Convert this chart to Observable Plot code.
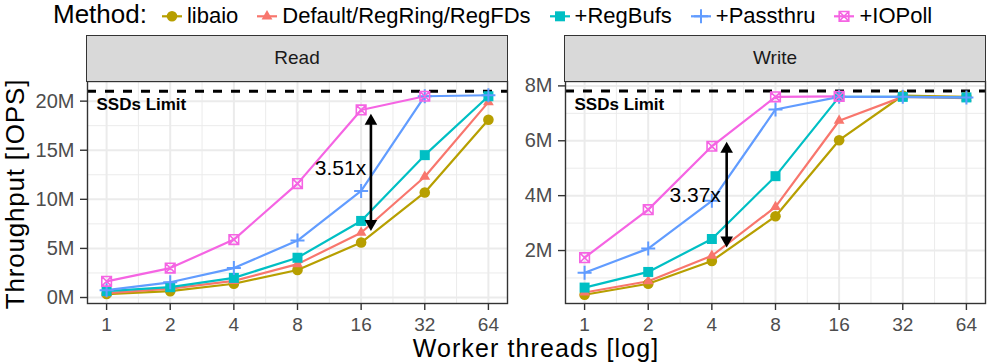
<!DOCTYPE html>
<html><head><meta charset="utf-8">
<script src="https://cdn.jsdelivr.net/npm/d3@7"></script>
<script src="https://cdn.jsdelivr.net/npm/@observablehq/plot@0.6"></script>
<style>
body{margin:0;background:#fff;}
#root{position:relative;width:987px;height:363px;font-family:"Liberation Sans",Arial,sans-serif;overflow:hidden;background:#fff;}
.abs{position:absolute;white-space:nowrap;}
.strip{position:absolute;box-sizing:border-box;background:#d9d9d9;border:1.4px solid #333;display:flex;align-items:center;justify-content:center;font-size:19px;color:#1a1a1a;}
#legend{position:absolute;left:53px;top:3px;display:flex;align-items:baseline;line-height:22px;}
.ltitle{font-size:26px;margin-right:15px;color:#000;}
.lkey{margin-right:5px;}
.llab{font-size:22px;margin-right:19px;color:#000;}
</style></head><body><div id="root"></div>
<script>
// ---------- data ----------
const threads = [1, 2, 4, 8, 16, 32, 64];
const methods = ["libaio", "Default/RegRing/RegFDs", "+RegBufs", "+Passthru", "+IOPoll"];
const methodColors = ["#B79F00", "#F8766D", "#00BFC4", "#619CFF", "#F564E3"];

// Read throughput, millions of IOPS
const readLibaio   = [0.35, 0.65, 1.4, 2.8, 5.6, 10.7, 18.1];
const readDefault  = [0.45, 0.9, 1.7, 3.4, 6.6, 12.3, 19.9];
const readRegBufs  = [0.65, 1.05, 2.0, 4.05, 7.8, 14.5, 20.5];
const readPassthru = [0.75, 1.55, 3.0, 5.8, 10.85, 20.5, 20.6];
const readIOPoll   = [1.65, 3.0, 5.9, 11.6, 19.1, 20.5];

// Write throughput, millions of IOPS
const writeLibaio   = [0.39, 0.79, 1.62, 3.25, 6.02, 7.65, 7.6];
const writeDefault  = [0.47, 0.88, 1.81, 3.59, 6.73, 7.6, 7.55];
const writeRegBufs  = [0.65, 1.22, 2.42, 4.71, 7.6, 7.6, 7.58];
const writePassthru = [1.19, 2.07, 3.81, 7.14, 7.6, 7.6, 7.58];
const writeIOPoll   = [1.74, 3.49, 5.8, 7.6, 7.62];

const readLimit = 21.0;
const writeLimit = 7.81;
const limitLabel = "SSDs Limit";

const readTicks = [0, 5, 10, 15, 20];
const readMinor = [2.5, 7.5, 12.5, 17.5];
const writeTicks = [2, 4, 6, 8];
const writeMinor = [1, 3, 5, 7];
const minorX = [1.414, 2.828, 5.657, 11.31, 22.63, 45.25];

const readArrow  = [{x: 17.8, top: 18.72, bottom: 6.78, label: "3.51x", lx: 16.9, ly: 13.12}];
const writeArrow = [{x: 4.7, top: 5.96, bottom: 2.11, label: "3.37x", lx: 4.41, ly: 4.02}];

const panelTitles = ["Read", "Write"];
const xTitle = "Worker threads [log]";
const yTitle = "Throughput [IOPS]";
const legendTitle = "Method:";

// ---------- symbols ----------
const symCircle = {draw(c){ c.moveTo(5.3, 0); c.arc(0, 0, 5.3, 0, 2 * Math.PI); c.closePath(); }};
const symTriangle = {draw(c){ c.moveTo(0, -6.2); c.lineTo(5.4, 3.1); c.lineTo(-5.4, 3.1); c.closePath(); }};
const symSquare = {draw(c){ c.rect(-5, -5, 10, 10); }};
const symPlus = {draw(c){ c.moveTo(-7, 0); c.lineTo(7, 0); c.moveTo(0, -7); c.lineTo(0, 7); }};
const symBoxX = {draw(c){ c.rect(-4.8, -4.8, 9.6, 9.6); c.moveTo(-4.8, -4.8); c.lineTo(4.8, 4.8); c.moveTo(4.8, -4.8); c.lineTo(-4.8, 4.8); }};
const headUp = {draw(c){ c.moveTo(0, 0); c.lineTo(6.3, 11); c.lineTo(-6.3, 11); c.closePath(); }};
const headDown = {draw(c){ c.moveTo(0, 0); c.lineTo(6.3, -11); c.lineTo(-6.3, -11); c.closePath(); }};
const methodSymbols = [symCircle, symTriangle, symSquare, symPlus, symBoxX];
const filledSymbol = [true, true, true, false, false];

const FONT = "'Liberation Sans', Arial, sans-serif";

function panel({series, limit, yDomain, yTicks, yMinor, arrow, width, marginLeft, marginRight}) {
  const rows = [];
  methods.forEach((m, i) => series[i].forEach((v, j) => rows.push({method: m, threads: threads[j], value: v})));
  const dots = methods.map((m, i) => Plot.dot(rows.filter(d => d.method === m), {
    x: "threads", y: "value", r: 5, symbol: methodSymbols[i],
    fill: filledSymbol[i] ? methodColors[i] : "none",
    stroke: filledSymbol[i] ? "none" : methodColors[i],
    strokeWidth: i === 3 ? 2 : 1.6
  }));
  return Plot.plot({
    width, height: 302, marginLeft, marginRight, marginTop: 45, marginBottom: 35,
    style: {fontFamily: FONT, fontSize: "20px", background: "transparent", overflow: "visible"},
    x: {type: "log", base: 2, domain: [2 ** -0.3, 2 ** 6.3]},
    y: {domain: yDomain},
    color: {domain: methods, range: methodColors},
    marks: [
      Plot.ruleX(minorX, {stroke: "#ebebeb", strokeWidth: 1}),
      Plot.ruleY(yMinor, {stroke: "#ebebeb", strokeWidth: 1}),
      Plot.ruleX(threads, {stroke: "#ebebeb", strokeWidth: 2}),
      Plot.ruleY(yTicks, {stroke: "#ebebeb", strokeWidth: 2}),
      Plot.ruleY([limit], {stroke: "#000", strokeWidth: 3, strokeDasharray: "9,9"}),
      Plot.line(rows, {x: "threads", y: "value", z: "method", stroke: "method", strokeWidth: 2.2}),
      ...dots,
      Plot.arrow(arrow, {x1: "x", y1: "top", x2: "x", y2: "bottom", headLength: 0, insetStart: 6, insetEnd: 6, strokeWidth: 2.6, stroke: "#000"}),
      Plot.dot(arrow, {x: "x", y: "top", symbol: headUp, fill: "#000", stroke: "none", r: 5}),
      Plot.dot(arrow, {x: "x", y: "bottom", symbol: headDown, fill: "#000", stroke: "none", r: 5}),
      Plot.text(arrow, {x: "lx", y: "ly", text: "label", textAnchor: "end", lineAnchor: "middle", fontSize: 21, fill: "#000"}),
      Plot.text([limitLabel], {frameAnchor: "top-left", dx: 9, dy: 23.5, textAnchor: "start", lineAnchor: "middle", fontWeight: "bold", fontSize: 17, fill: "#000"}),
      Plot.frame({stroke: "#333", strokeWidth: 1.4}),
      Plot.axisX(threads, {anchor: "bottom", tickSize: 7, tickPadding: 6.5, fontSize: 19, fill: "#4d4d4d", stroke: "#333", strokeWidth: 1.4, label: null, tickFormat: d => String(d)}),
      Plot.axisY(yTicks, {anchor: "left", tickSize: 7, tickPadding: 6, fontSize: 20, fill: "#4d4d4d", stroke: "#333", strokeWidth: 1.4, label: null, tickFormat: d => d + "M"})
    ]
  });
}

const root = document.getElementById("root");

const left = panel({
  series: [readLibaio, readDefault, readRegBufs, readPassthru, readIOPoll],
  limit: readLimit, yDomain: [-0.61, 22.0], yTicks: readTicks, yMinor: readMinor,
  arrow: readArrow, width: 510, marginLeft: 87, marginRight: 3
});
left.style.position = "absolute"; left.style.left = "0px"; left.style.top = "36px";
root.appendChild(left);

const right = panel({
  series: [writeLibaio, writeDefault, writeRegBufs, writePassthru, writeIOPoll],
  limit: writeLimit, yDomain: [0.07, 8.16], yTicks: writeTicks, yMinor: writeMinor,
  arrow: writeArrow, width: 477, marginLeft: 55, marginRight: 2
});
right.style.position = "absolute"; right.style.left = "510px"; right.style.top = "36px";
root.appendChild(right);

// strips
[[86.3, panelTitles[0]], [564.3, panelTitles[1]]].forEach(([x, t]) => {
  const s = document.createElement("div");
  s.className = "strip";
  s.style.left = x + "px"; s.style.top = "35.3px"; s.style.width = "421.4px"; s.style.height = "46.4px";
  s.textContent = t;
  root.appendChild(s);
});

// axis titles
const xt = document.createElement("div");
xt.className = "abs";
Object.assign(xt.style, {left: "286px", width: "500px", top: "337.3px", height: "22px", textAlign: "center", fontSize: "25px", lineHeight: "22px", letterSpacing: "1.1px", color: "#000"});
xt.textContent = xTitle;
root.appendChild(xt);

const yt = document.createElement("div");
yt.className = "abs";
Object.assign(yt.style, {left: "-135px", width: "300px", top: "184px", height: "20px", textAlign: "center", fontSize: "26px", lineHeight: "20px", letterSpacing: "0.8px", color: "#000", transform: "rotate(-90deg)", transformOrigin: "50% 50%"});
yt.textContent = yTitle;
root.appendChild(yt);

// legend
const lg = document.createElement("div");
lg.id = "legend";
const lt = document.createElement("span");
lt.className = "ltitle"; lt.textContent = legendTitle;
lg.appendChild(lt);
const NS = "http://www.w3.org/2000/svg";
methods.forEach((m, i) => {
  const svg = document.createElementNS(NS, "svg");
  svg.setAttribute("width", 20); svg.setAttribute("height", 16);
  svg.setAttribute("class", "lkey");
  svg.style.overflow = "visible";
  const ln = document.createElementNS(NS, "line");
  ln.setAttribute("x1", 0); ln.setAttribute("x2", 20); ln.setAttribute("y1", 9.3); ln.setAttribute("y2", 9.3);
  ln.setAttribute("stroke", methodColors[i]); ln.setAttribute("stroke-width", 2.2);
  svg.appendChild(ln);
  const p = document.createElementNS(NS, "path");
  const path = d3.path(); methodSymbols[i].draw(path);
  p.setAttribute("d", path.toString());
  p.setAttribute("transform", "translate(10,9.3)");
  p.setAttribute("fill", filledSymbol[i] ? methodColors[i] : "none");
  p.setAttribute("stroke", filledSymbol[i] ? "none" : methodColors[i]);
  p.setAttribute("stroke-width", i === 3 ? 2 : 1.6);
  svg.appendChild(p);
  lg.appendChild(svg);
  const lb = document.createElement("span");
  lb.className = "llab"; lb.textContent = m;
  lg.appendChild(lb);
});
root.appendChild(lg);
</script></body></html>
